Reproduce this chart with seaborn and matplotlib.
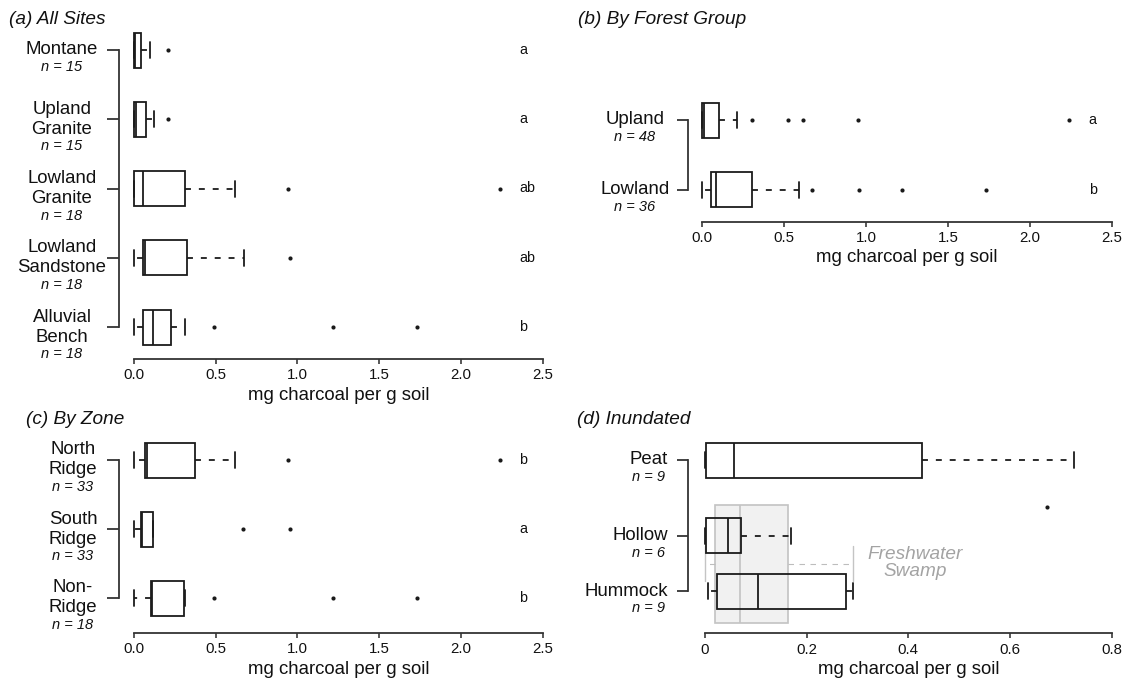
import numpy as np
import pandas as pd
import matplotlib
matplotlib.use("Agg")
import matplotlib.pyplot as plt
import seaborn as sns

# ------------------------------------------------------------------ data
# (a) All Sites
a_names = [["Montane"], ["Upland", "Granite"], ["Lowland", "Granite"],
           ["Lowland", "Sandstone"], ["Alluvial", "Bench"]]
a_n = [15, 15, 18, 18, 18]
a_whislo = [0.0, 0.0, 0.0, 0.0, 0.0]
a_q1 = [0.0, 0.0, 0.0, 0.058, 0.053]
a_med = [0.008, 0.010, 0.058, 0.070, 0.119]
a_q3 = [0.041, 0.072, 0.311, 0.325, 0.228]
a_whishi = [0.100, 0.120, 0.620, 0.671, 0.310]
a_outliers = [[0.21], [0.206], [0.94, 2.24], [0.956], [0.487, 1.215, 1.73]]
a_letters = ["a", "a", "ab", "ab", "b"]

# (b) By Forest Group
b_names = [["Upland"], ["Lowland"]]
b_n = [48, 36]
b_whislo = [0.0, 0.0]
b_q1 = [0.0, 0.055]
b_med = [0.014, 0.085]
b_q3 = [0.104, 0.303]
b_whishi = [0.214, 0.592]
b_outliers = [[0.307, 0.522, 0.618, 0.949, 2.24], [0.671, 0.955, 1.218, 1.733]]
b_letters = ["a", "b"]

# (c) By Zone
c_names = [["North", "Ridge"], ["South", "Ridge"], ["Non-", "Ridge"]]
c_n = [33, 33, 18]
c_whislo = [0.0, 0.0, 0.0]
c_q1 = [0.068, 0.041, 0.101]
c_med = [0.080, 0.049, 0.112]
c_q3 = [0.371, 0.114, 0.305]
c_whishi = [0.620, 0.114, 0.314]
c_outliers = [[0.94, 2.24], [0.667, 0.956], [0.487, 1.215, 1.73]]
c_letters = ["b", "a", "b"]

# (d) Inundated
d_names = [["Peat"], ["Hollow"], ["Hummock"]]
d_n = [9, 6, 9]
d_whislo = [0.0, 0.0, 0.0066]
d_q1 = [0.001, 0.001, 0.024]
d_med = [0.057, 0.045, 0.105]
d_q3 = [0.427, 0.070, 0.277]
d_whishi = [0.725, 0.169, 0.291]
d_outliers = [[], [0.673], []]

# Freshwater swamp reference
swamp_label = "Freshwater\nSwamp"
swamp_whislo, swamp_q1, swamp_med, swamp_q3, swamp_whishi = 0.0, 0.02, 0.069, 0.164, 0.291

x_label = "mg charcoal per g soil"
ticks_25 = [0.0, 0.5, 1.0, 1.5, 2.0, 2.5]
ticklabels_25 = ["0.0", "0.5", "1.0", "1.5", "2.0", "2.5"]
ticks_08 = [0.0, 0.2, 0.4, 0.6, 0.8]
ticklabels_08 = ["0", "0.2", "0.4", "0.6", "0.8"]
titles = ["(a) All Sites", "(b) By Forest Group", "(c) By Zone", "(d) Inundated"]

# ------------------------------------------------------------------ style
sns.set_theme(style="ticks")
plt.rcParams["font.family"] = ["Liberation Sans", "DejaVu Sans"]

W, H, DPI = 1128, 681, 100
PX = 72.0 / DPI  # points per pixel
INK = "#1a1a1a"
AXC = "#333333"
LW = 1.8 * PX
FS_NAME = 13.4
FS_N = 10.5
FS_TICK = 10.8
FS_LET = 10.3
FS_TITLE = 13.7

fig = plt.figure(figsize=(W / DPI, H / DPI), dpi=DPI)
fig.patch.set_facecolor("white")


def stats_list(whislo, q1, med, q3, whishi):
    return [dict(whislo=a, q1=b, med=c, q3=d, whishi=e, fliers=[])
            for a, b, c, d, e in zip(whislo, q1, med, q3, whishi)]


def panel(left, right, top, bottom, row0, unit, positions, names, ns,
          stats, outliers, letters, xmax, xticks, xticklabels,
          spine_gap, ytick_len, name_x, name_ha, n_x, letter_x,
          outlier_shift=None):
    ax = fig.add_axes([left / W, 1 - bottom / H, (right - left) / W, (bottom - top) / H])
    ax.set_facecolor("none")
    box_w = 35.0 / unit
    cap_w = 16.0 / unit
    dash = (0, (3.3, 4.4))
    ax.bxp(stats, positions=positions, widths=box_w, capwidths=cap_w,
           orientation="horizontal", showfliers=False, patch_artist=True,
           boxprops=dict(facecolor="none", edgecolor=INK, linewidth=LW),
           medianprops=dict(color=INK, linewidth=LW, solid_capstyle="butt"),
           whiskerprops=dict(color=INK, linewidth=LW, linestyle=dash),
           capprops=dict(color=INK, linewidth=LW), manage_ticks=False)
    for art in ax.get_children():
        try:
            art.set_clip_on(False)
        except Exception:
            pass
    # outliers through seaborn
    rows = []
    for i, vals in enumerate(outliers):
        shift = 0 if outlier_shift is None else outlier_shift[i]
        for v in vals:
            rows.append({"value": v, "pos": positions[i] + shift})
    if rows:
        df = pd.DataFrame(rows)
        sns.scatterplot(data=df, x="value", y="pos", ax=ax, color=INK, s=9,
                        linewidth=0, legend=False, clip_on=False)
    ax.set_xlim(0, xmax)
    ax.set_ylim((bottom - row0) / unit, (top - row0) / unit)
    ax.set_xticks(xticks)
    ax.set_xticklabels(xticklabels)
    ax.set_yticks(positions)
    ax.set_yticklabels([""] * len(positions))
    ax.set_xlabel("")
    ax.set_ylabel("")
    for s in ["top", "right"]:
        ax.spines[s].set_visible(False)
    ax.spines["left"].set_position(("outward", spine_gap * PX))
    ax.spines["left"].set_bounds(min(positions), max(positions))
    ax.spines["bottom"].set_bounds(0, xmax)
    for s in ["left", "bottom"]:
        ax.spines[s].set_linewidth(1.8 * PX)
        ax.spines[s].set_color(AXC)
    ax.tick_params(axis="y", direction="out", length=ytick_len * PX,
                   width=1.8 * PX, color=AXC)
    ax.tick_params(axis="x", direction="out", length=4.5 * PX, width=1.6 * PX,
                   color=AXC, labelsize=FS_TICK, pad=3.5, labelcolor="#111111")
    # x label
    ax.text(0.5, -36.0 / (bottom - top), x_label, transform=ax.transAxes,
            ha="center", va="center", fontsize=FS_NAME, color="#111111")
    # category labels
    ytr = ax.get_yaxis_transform()
    for pos, lines, n in zip(positions, names, ns):
        k = len(lines)
        for j, line in enumerate(lines):
            off = -((j - (k - 1) / 2.0) * 20.0)
            ax.annotate(line, xy=(0, pos), xycoords=ytr,
                        xytext=(name_x - left, off), textcoords="offset pixels",
                        ha=name_ha, va="center", fontsize=FS_NAME, color="#111111",
                        annotation_clip=False)
        off_n = -(((k - 1) / 2.0) * 20.0 + 17.0)
        ax.annotate(f"n = {n}", xy=(0, pos), xycoords=ytr,
                    xytext=(n_x - left, off_n), textcoords="offset pixels",
                    ha="center", va="center", fontsize=FS_N, style="italic",
                    color="#111111", annotation_clip=False)
    if letters is not None:
        for pos, let in zip(positions, letters):
            ax.text(letter_x, pos, let, ha="left", va="center",
                    fontsize=FS_LET, color="#111111")
    return ax


# (a)
panel(134, 542.7, 25, 359, 50, 69.25, [0, 1, 2, 3, 4], a_names, a_n,
      stats_list(a_whislo, a_q1, a_med, a_q3, a_whishi), a_outliers, a_letters,
      2.5, ticks_25, ticklabels_25, 15, 12, 62, "center", 62, 2.355)

# (b)
panel(702, 1111.7, 95, 221.7, 120, 70.0, [0, 1], b_names, b_n,
      stats_list(b_whislo, b_q1, b_med, b_q3, b_whishi), b_outliers, b_letters,
      2.5, ticks_25, ticklabels_25, 14, 11.5, 635, "center", 635, 2.36)

# (c)
panel(134, 542.7, 435, 633, 460, 69.0, [0, 1, 2], c_names, c_n,
      stats_list(c_whislo, c_q1, c_med, c_q3, c_whishi), c_outliers, c_letters,
      2.5, ticks_25, ticklabels_25, 15, 12, 73, "center", 73, 2.355)

# (d)
d_pos = [0, 1.101, 1.899]
axd = panel(705, 1111.7, 435, 633.3, 460, 69.0, d_pos, d_names, d_n,
            stats_list(d_whislo, d_q1, d_med, d_q3, d_whishi), d_outliers, None,
            0.8, ticks_08, ticklabels_08, 17, 11.5, 668, "right", 648, 0,
            outlier_shift=[0, -0.42, 0])

# freshwater swamp reference box (behind)
GREY_E = "#c4c4c4"
swamp = axd.bxp([dict(whislo=swamp_whislo, q1=swamp_q1, med=swamp_med,
                      q3=swamp_q3, whishi=swamp_whishi, fliers=[])],
                positions=[1.507], widths=1.71, capwidths=0.507,
                orientation="horizontal", showfliers=False, patch_artist=True,
                boxprops=dict(facecolor="#f1f1f1", edgecolor=GREY_E, linewidth=1.7 * PX),
                medianprops=dict(color=GREY_E, linewidth=1.7 * PX),
                whiskerprops=dict(color="#bdbdbd", linewidth=1.1 * PX, linestyle=(0, (5, 5))),
                capprops=dict(color=GREY_E, linewidth=1.4 * PX), manage_ticks=False)
for key in swamp:
    for art in swamp[key]:
        art.set_zorder(0.5)
        art.set_clip_on(False)
axd.text(0.413, 1.49, swamp_label, ha="center", va="center", fontsize=FS_TITLE,
         style="italic", color="#a3a3a3", linespacing=1.0)
axd.set_ylim((633.3 - 460) / 69.0, (435 - 460) / 69.0)
axd.set_xlim(0, 0.8)

# titles
for (tx, ty), t in zip([(9, 20), (578, 20), (26, 420), (577, 420)], titles):
    fig.text(tx / W, 1 - ty / H, t, ha="left", va="center", fontsize=FS_TITLE,
             style="italic", color="#111111")

fig.savefig("out.png", dpi=DPI, facecolor="white")
